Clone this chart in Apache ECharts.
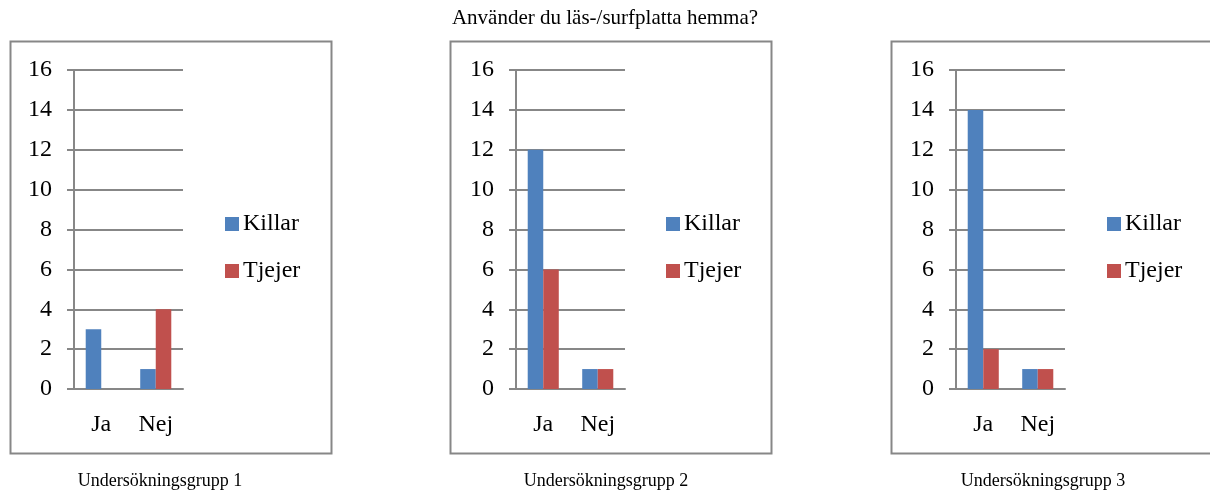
<!DOCTYPE html>
<html>
<head>
<meta charset="utf-8">
<script src="https://cdn.jsdelivr.net/npm/echarts@6/dist/echarts.min.js"></script>
<style>
  html, body { margin: 0; padding: 0; background: #fff; }
  #chart { width: 1210px; height: 492px; }
</style>
</head>
<body>
<div id="chart"></div>
<script>
var answers = ['Ja', 'Nej'];
var groups = ['Undersökningsgrupp 1', 'Undersökningsgrupp 2', 'Undersökningsgrupp 3'];
var killar = [[3, 1], [12, 1], [14, 1]];
var tjejer = [[0, 4], [6, 1], [2, 1]];

var FONT = 'Liberation Serif';
var GRAY = '#878787';
var chart = echarts.init(document.getElementById('chart'));

// per panel: plot left edge, box left edge, legend left edge, caption centre
var plotLeft = [74, 516, 956];
var boxLeft = [8, 448, 889];
var legendLeft = [225, 666, 1107];
var captionX = [160, 606, 1043];

var grids = [], xAxes = [], yAxes = [], series = [], legends = [], graphics = [];

groups.forEach(function (g, i) {
    grids.push({ left: plotLeft[i], top: 70, width: 109, height: 319 });
    xAxes.push({
        type: 'category', gridIndex: i, data: answers,
        axisLine: { lineStyle: { color: GRAY, width: 2 } },
        axisTick: { length: 7, lineStyle: { color: GRAY, width: 2 } },
        axisLabel: { color: '#000', fontFamily: FONT, fontSize: 24, margin: 24 }
    });
    yAxes.push({
        type: 'value', gridIndex: i, min: 0, max: 16, interval: 2,
        axisLine: { show: true, lineStyle: { color: GRAY, width: 2 } },
        axisTick: { show: true, length: 7, lineStyle: { color: GRAY, width: 2 } },
        splitLine: { lineStyle: { color: GRAY, width: 2 } },
        axisLabel: { color: '#000', fontFamily: FONT, fontSize: 24, margin: 22 }
    });
    series.push({
        name: 'Killar', type: 'bar', xAxisIndex: i, yAxisIndex: i,
        data: killar[i], itemStyle: { color: '#4F81BD' },
        barGap: '0%', barCategoryGap: '43%'
    });
    series.push({
        name: 'Tjejer', type: 'bar', xAxisIndex: i, yAxisIndex: i,
        data: tjejer[i], itemStyle: { color: '#C0504D' },
        barGap: '0%', barCategoryGap: '43%'
    });
    legends.push({
        data: ['Killar', 'Tjejer'], orient: 'vertical', padding: 0,
        left: legendLeft[i], top: 212, itemWidth: 14, itemHeight: 14, itemGap: 23,
        icon: 'rect',
        textStyle: { fontFamily: FONT, fontSize: 24, color: '#000', padding: [0, 0, 0, -1] }
    });
    graphics.push({
        type: 'rect', left: boxLeft[i], top: 39,
        shape: { width: 321, height: 412 },
        style: { fill: 'none', stroke: GRAY, lineWidth: 2 }
    });
    graphics.push({
        type: 'text', x: captionX[i], y: 481,
        style: { text: g, font: '18px "Liberation Serif"', fill: '#000', textAlign: 'center', textVerticalAlign: 'middle' }
    });
});

var option = {
    animation: false,
    title: {
        text: 'Använder du läs-/surfplatta hemma?',
        left: 'center', top: 3,
        textStyle: { fontFamily: FONT, fontSize: 21, fontWeight: 'normal', color: '#000' }
    },
    grid: grids,
    xAxis: xAxes,
    yAxis: yAxes,
    legend: legends,
    series: series,
    graphic: graphics
};

chart.setOption(option);
</script>
</body>
</html>
